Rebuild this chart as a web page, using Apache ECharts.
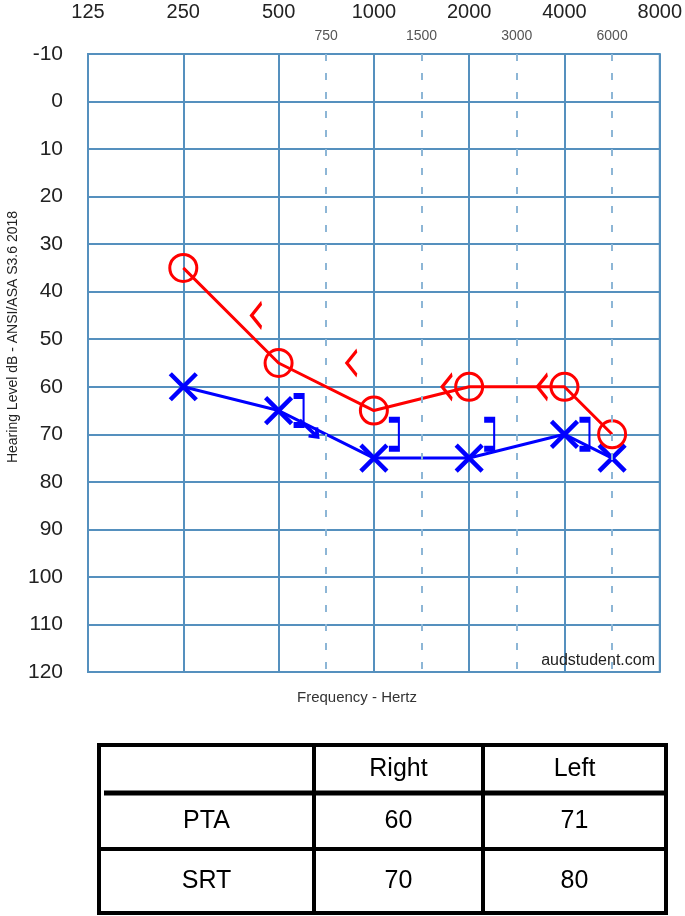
<!DOCTYPE html>
<html>
<head>
<meta charset="utf-8">
<script src="https://cdn.jsdelivr.net/npm/echarts@6/dist/echarts.min.js"></script>
<style>
  html, body { margin: 0; padding: 0; background: #fff; }
  #audiogram { width: 685px; height: 916px; }
</style>
</head>
<body>
<div id="audiogram"></div>
<script>
// audiogram values
const octaveLabels = [125, 250, 500, 1000, 2000, 4000, 8000];
const midLabels = [750, 1500, 3000, 6000];
const freqs = [250, 500, 1000, 2000, 4000, 6000];
const rightAir = [35, 55, 65, 60, 60, 70];
const leftAir = [60, 65, 75, 75, 70, 75];
const boneFreqs = [500, 1000, 2000, 4000];
const rightBone = [45, 55, 60, 60];
const leftBone = [65, 70, 70, 70];
const leftBoneNR = [[500, 65]];
const tableHeader = ['Right', 'Left'];
const tableRows = ['PTA', 'SRT'];
const ptaValues = [60, 71];
const srtValues = [70, 80];

// octaves are equally spaced, inter-octave freqs sit halfway
const freqPos = function (f) {
  const o = Math.log2(f / 125);
  return Number.isInteger(o) ? o : Math.floor(o) + 0.5;
};

const gridColor = '#5590be';
const font = '"Liberation Sans", Arial, sans-serif';

const chartDom = document.getElementById('audiogram');
const myChart = echarts.init(chartDom);

// table geometry
const colX = [99, 314, 483, 666];
const rowY = [745, 793, 849, 913];
const cx = i => (colX[i] + colX[i + 1]) / 2;
const cy = i => (rowY[i] + rowY[i + 1]) / 2;
const cellText = function (text, x, y) {
  return {
    type: 'text',
    style: { text: String(text), x: x, y: y, textAlign: 'center', textVerticalAlign: 'middle',
      font: '25px ' + font, fill: '#000' }
  };
};
const tableEls = [
  { type: 'rect', shape: { x: colX[0], y: rowY[0], width: colX[3] - colX[0], height: rowY[3] - rowY[0] },
    style: { fill: 'none', stroke: '#000', lineWidth: 4 } },
  { type: 'line', shape: { x1: colX[1], y1: rowY[0], x2: colX[1], y2: rowY[3] }, style: { stroke: '#000', lineWidth: 4 } },
  { type: 'line', shape: { x1: colX[2], y1: rowY[0], x2: colX[2], y2: rowY[3] }, style: { stroke: '#000', lineWidth: 4 } },
  { type: 'line', shape: { x1: colX[0] + 5, y1: rowY[1], x2: colX[3], y2: rowY[1] }, style: { stroke: '#000', lineWidth: 5 } },
  { type: 'line', shape: { x1: colX[0], y1: rowY[2], x2: colX[3], y2: rowY[2] }, style: { stroke: '#000', lineWidth: 4 } }
];
tableHeader.forEach((t, i) => tableEls.push(cellText(t, cx(i + 1), cy(0))));
tableRows.forEach((t, i) => tableEls.push(cellText(t, cx(0), cy(i + 1))));
ptaValues.forEach((v, i) => tableEls.push(cellText(v, cx(i + 1), cy(1))));
srtValues.forEach((v, i) => tableEls.push(cellText(v, cx(i + 1), cy(2))));

const option = {
  animation: false,
  grid: {
    left: 88, top: 54, width: 574, height: 618,
    show: true, borderColor: gridColor, borderWidth: 2, backgroundColor: 'transparent'
  },
  xAxis: [
    {
      type: 'value', position: 'top', min: 0, max: 6, interval: 1,
      axisLine: { show: false }, axisTick: { show: false },
      axisLabel: { formatter: v => octaveLabels[v], fontSize: 20, color: '#222', fontFamily: font, margin: 32 },
      splitLine: { show: true, lineStyle: { color: gridColor, width: 2 } }
    },
    {
      type: 'value', position: 'top', min: 0, max: 6, interval: 0.5,
      axisLine: { show: false }, axisTick: { show: false },
      axisLabel: {
        formatter: v => (midLabels.map(freqPos).indexOf(v) >= 0 ? midLabels[midLabels.map(freqPos).indexOf(v)] : ''),
        fontSize: 14, color: '#555', fontFamily: font, margin: 11
      },
      splitLine: { show: false }
    }
  ],
  yAxis: {
    type: 'value', inverse: true, min: -10, max: 120, interval: 10,
    axisLine: { show: false }, axisTick: { show: false },
    axisLabel: { fontSize: 21, color: '#222', fontFamily: font, margin: 25 },
    splitLine: { show: true, lineStyle: { color: gridColor, width: 2 } }
  },
  graphic: [
    { type: 'text', style: { text: 'Hearing Level dB - ANSI/ASA S3.6 2018', x: 0, y: 0, textAlign: 'center',
        textVerticalAlign: 'middle', font: '14px ' + font, fill: '#222' },
      x: 13, y: 337, rotation: Math.PI / 2 },
    { type: 'text', style: { text: 'Frequency - Hertz', x: 357, y: 698, textAlign: 'center',
        textVerticalAlign: 'middle', font: '15px ' + font, fill: '#333' } },
    { type: 'text', z: 100, style: { text: 'audstudent.com', x: 655, y: 661, textAlign: 'right',
        textVerticalAlign: 'middle', font: '16px ' + font, fill: '#222' } }
  ].concat(tableEls),
  series: [
    {
      name: 'mid lines', type: 'line', data: [], silent: true, z: 1,
      markLine: {
        silent: true, symbol: 'none', label: { show: false },
        lineStyle: { color: '#8db6d6', width: 2, type: [7, 12] },
        data: midLabels.map(f => ({ xAxis: freqPos(f) }))
      }
    },
    {
      name: 'Right air', type: 'line', z: 4,
      data: freqs.map((f, i) => [freqPos(f), rightAir[i]]),
      lineStyle: { color: '#ff0000', width: 3 },
      symbol: 'circle', symbolSize: 27,
      itemStyle: { color: 'rgba(0,0,0,0)', borderColor: '#ff0000', borderWidth: 3 }
    },
    {
      name: 'Left air', type: 'line', z: 3,
      data: freqs.map((f, i) => [freqPos(f), leftAir[i]]),
      lineStyle: { color: '#0000ff', width: 3 },
      symbol: 'path://M0,0L10,10M10,0L0,10', symbolSize: 26,
      itemStyle: { color: 'rgba(0,0,0,0)', borderColor: '#0000ff', borderWidth: 4.5 }
    },
    {
      name: 'Right bone', type: 'scatter', z: 4,
      data: boneFreqs.map((f, i) => [freqPos(f), rightBone[i]]),
      symbol: 'path://M10,0L0,12L10,24', symbolSize: [10, 25], symbolOffset: [-22, 0],
      itemStyle: { color: 'rgba(0,0,0,0)', borderColor: '#ff0000', borderWidth: 3, opacity: 1 }
    },
    {
      name: 'Left bone', type: 'scatter', z: 3,
      data: boneFreqs.map((f, i) => [freqPos(f), leftBone[i]]),
      symbol: 'path://M0,0L10,0L10,30L0,30', symbolSize: [10, 29], symbolOffset: [20, 0],
      itemStyle: { color: 'rgba(0,0,0,0)', borderColor: '#0000ff', borderWidth: 3.5, opacity: 1 }
    },
    {
      name: 'Left bone NR', type: 'scatter', z: 3,
      data: leftBoneNR.map(d => [freqPos(d[0]), d[1]]),
      symbol: 'path://M0,0L16,14M8,13L16,14L15,6', symbolSize: [18, 17], symbolOffset: [30, 18],
      itemStyle: { color: 'rgba(0,0,0,0)', borderColor: '#0000ff', borderWidth: 3.5, opacity: 1 }
    }
  ]
};
option && myChart.setOption(option);
</script>
</body>
</html>
